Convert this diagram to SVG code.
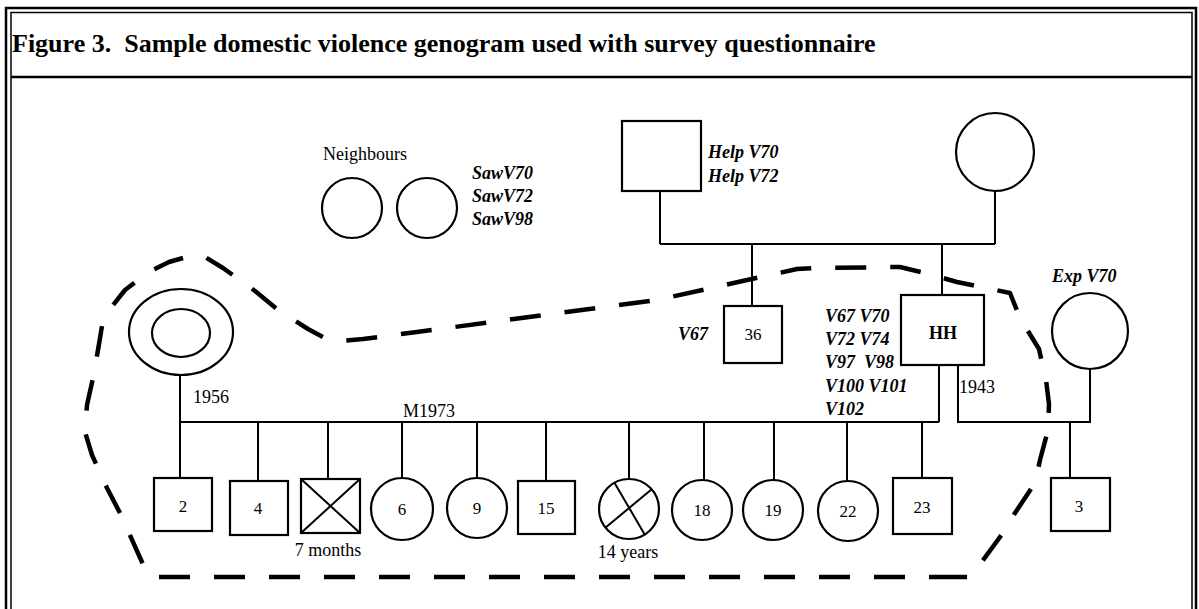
<svg xmlns="http://www.w3.org/2000/svg" width="1199" height="609" viewBox="0 0 1199 609">
<style>
  .ln{stroke:#000;stroke-width:2;fill:none}
  .sh{stroke:#000;stroke-width:2.2;fill:#fff}
  .fr{stroke:#000;fill:none}
  .dash{stroke:#000;stroke-width:4.5;fill:none;stroke-dasharray:31 24;stroke-linejoin:round}
  .t{font-family:"Liberation Serif","Times New Roman",serif;font-size:18px;fill:#000}
  .n{font-family:"Liberation Serif","Times New Roman",serif;font-size:17px;fill:#000;text-anchor:middle}
  .bi{font-family:"Liberation Serif","Times New Roman",serif;font-size:18px;font-weight:bold;font-style:italic;fill:#000}
  .b{font-family:"Liberation Serif","Times New Roman",serif;font-size:18px;font-weight:bold;fill:#000}
  .c{text-anchor:middle}
</style>
<rect width="1199" height="609" fill="#fff"/>
<g id="frame">
  <path class="fr" stroke-width="2.5" d="M6 609 V8 H1196 V609"/>
  <path class="fr" stroke-width="1.5" d="M11 609 V12.5 H1192 V609"/>
  <path class="fr" stroke-width="2.5" d="M11 77 H1192"/>
  <text x="12" y="52" class="b" style="font-size:26px">Figure 3.&#160; Sample domestic violence genogram used with survey questionnaire</text>
</g>
<g id="boundary">
  <path class="dash" d="M960 577 L152 577 L146 571 L120 513 L107 488 L92 455 L85 432 L87 405 L93 378 L98 350 L102 326 L110 309 L125 290 L147 273 L169 262 L190 256 L205 257 L223 268 L255 291 L278 310 L308 329 L325 338 L340 341 L363 339 L417 332 L657 300 L797 269 L815 268 L900 267 L925 273 L957 282 L1010 293 L1020 318 L1039 349 L1046 380 L1049 404 L1048 430 L1040 460 L1035 483 L1015 513 L1000 537 L978 567 L970 577 Z"/>
</g>
<g id="connectors">
  <path class="ln" d="M660 191 V244 M995 191 V244 M660 244 H995 M752 244 V306 M942 244 V295"/>
  <path class="ln" d="M180 375 V478 M180 422 H939 M939 365 V422"/>
  <path class="ln" d="M958 365 V422 H1090 V369 M1070 422 V478"/>
  <path class="ln" d="M258 422 V481 M328 422 V479 M402 422 V478 M477 422 V478 M546 422 V481 M629 422 V479 M704 422 V480 M774 422 V480 M847 422 V481 M922 422 V478"/>
</g>
<g id="neighbours">
  <text x="323" y="160" class="t">Neighbours</text>
  <circle cx="352" cy="208" r="30" class="sh"/>
  <circle cx="427" cy="208" r="30" class="sh"/>
  <text x="472" y="179" class="bi">SawV70</text>
  <text x="472" y="202" class="bi">SawV72</text>
  <text x="472" y="225" class="bi">SawV98</text>
</g>
<g id="grandfather">
  <rect x="622" y="121" width="79" height="70" class="sh"/>
  <text x="708" y="158" class="bi">Help V70</text>
  <text x="708" y="182" class="bi">Help V72</text>
</g>
<g id="grandmother">
  <circle cx="995" cy="152" r="39" class="sh"/>
</g>
<g id="uncle36">
  <rect x="724" y="306" width="58" height="57" class="sh"/>
  <text x="753" y="340" class="n">36</text>
  <text x="678" y="340" class="bi">V67</text>
</g>
<g id="hh">
  <rect x="901" y="295" width="83" height="70" class="sh"/>
  <text x="943" y="339" class="b c">HH</text>
  <text x="825" y="322" class="bi">V67 V70</text>
  <text x="825" y="345" class="bi">V72 V74</text>
  <text x="825" y="368" class="bi">V97&#160; V98</text>
  <text x="825" y="392" class="bi">V100 V101</text>
  <text x="825" y="415" class="bi">V102</text>
  <text x="959" y="393" class="t">1943</text>
</g>
<g id="exwife">
  <circle cx="1090" cy="331" r="38" class="sh"/>
  <text x="1052" y="282" class="bi">Exp V70</text>
</g>
<g id="wife">
  <ellipse cx="181" cy="332" rx="52" ry="43" class="sh"/>
  <ellipse cx="181" cy="333" rx="29" ry="24" class="sh"/>
  <text x="193" y="403" class="t">1956</text>
  <text x="403" y="417" class="t">M1973</text>
</g>
<g id="child2"><rect x="154" y="478" width="58" height="53" class="sh"/><text x="183" y="512" class="n">2</text></g>
<g id="child4"><rect x="230" y="481" width="58" height="54" class="sh"/><text x="258" y="514" class="n">4</text></g>
<g id="child7m"><rect x="301" y="479" width="59" height="54" class="sh"/><path class="ln" d="M301 479 L360 533 M360 479 L301 533"/><text x="328" y="556" class="t c">7 months</text></g>
<g id="child6"><circle cx="402" cy="509" r="31" class="sh"/><text x="402" y="515" class="n">6</text></g>
<g id="child9"><circle cx="477" cy="508" r="30" class="sh"/><text x="477" y="514" class="n">9</text></g>
<g id="child15"><rect x="518" y="481" width="57" height="53" class="sh"/><text x="546" y="514" class="n">15</text></g>
<g id="child14y"><circle cx="629" cy="509" r="30" class="sh"/><path class="ln" d="M614 482 L645 535 M605 528 L652 489"/><text x="628" y="558" class="t c">14 years</text></g>
<g id="child18"><circle cx="702" cy="510" r="30" class="sh"/><text x="702" y="516" class="n">18</text></g>
<g id="child19"><circle cx="773" cy="510" r="30" class="sh"/><text x="773" y="516" class="n">19</text></g>
<g id="child22"><circle cx="848" cy="511" r="30" class="sh"/><text x="848" y="517" class="n">22</text></g>
<g id="child23"><rect x="893" y="478" width="59" height="56" class="sh"/><text x="922" y="513" class="n">23</text></g>
<g id="child3"><rect x="1051" y="478" width="59" height="53" class="sh"/><text x="1079" y="512" class="n">3</text></g>
</svg>
